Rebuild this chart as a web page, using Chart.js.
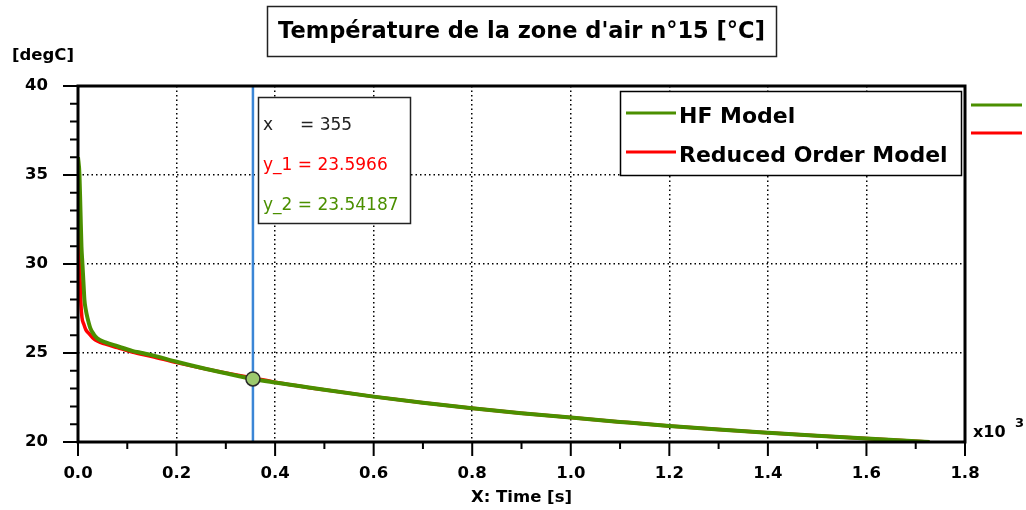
<!DOCTYPE html>
<html>
<head>
<meta charset="utf-8">
<script src="https://cdn.jsdelivr.net/npm/chart.js"></script>
<style>
  html, body { margin: 0; padding: 0; background: #fff; }
  #chart { display: block; }
</style>
</head>
<body>
<canvas id="chart" width="1026" height="510"></canvas>
<script>
// Time axis in thousands of seconds (x10^3)
const timeHF  = [0, 0.003, 0.005, 0.007, 0.009, 0.011, 0.013, 0.016, 0.019, 0.025, 0.032, 0.039, 0.056, 0.08, 0.11, 0.13, 0.15, 0.2, 0.25, 0.3, 0.355, 0.4, 0.5, 0.6, 0.7, 0.8, 0.9, 1.0, 1.1, 1.2, 1.3, 1.4, 1.5, 1.6, 1.7, 1.728];
const tempHF  = [36.0, 35.0, 33.0, 31.0, 30.0, 29.0, 28.0, 27.4, 27.0, 26.4, 26.05, 25.82, 25.6, 25.38, 25.12, 25.0, 24.88, 24.51, 24.17, 23.86, 23.54, 23.34, 22.93, 22.55, 22.2, 21.89, 21.62, 21.37, 21.13, 20.9, 20.7, 20.52, 20.35, 20.19, 20.04, 20.0];
const timeROM = [0, 0.001, 0.002, 0.003, 0.0045, 0.0055, 0.008, 0.012, 0.016, 0.022, 0.03, 0.04, 0.056, 0.08, 0.11, 0.15, 0.2, 0.25, 0.3, 0.355, 0.4, 0.5, 0.6, 0.7, 0.8, 0.9, 1.0, 1.1, 1.2, 1.3, 1.4, 1.5, 1.6, 1.7, 1.728];
const tempROM = [34.6, 32.5, 31.0, 30.0, 29.0, 28.0, 27.0, 26.6, 26.3, 26.1, 25.85, 25.66, 25.5, 25.3, 25.05, 24.8, 24.46, 24.16, 23.88, 23.597, 23.36, 22.93, 22.55, 22.2, 21.89, 21.62, 21.37, 21.13, 20.9, 20.7, 20.52, 20.35, 20.19, 20.04, 20.0];

const seriesNames = ['HF Model', 'Reduced Order Model'];
const cursorTime = 0.355;
const readX  = 355;
const readY1 = 23.5966;
const readY2 = 23.54187;

const GREEN = '#4b8f00';
const RED   = '#ff0000';
const BLUE  = '#3b86d6';
const FONT  = '"DejaVu Sans", Verdana, sans-serif';

Chart.defaults.color = '#000';
Chart.defaults.font.family = FONT;

const toPts = (xs, ys) => xs.map((x, i) => ({ x, y: ys[i] }));

// frame, ticks, boxes and the little extras around the plot
const decor = {
  id: 'decor',
  beforeDatasetsDraw (chart) {
    const { ctx, chartArea: a, scales: { x } } = chart;
    // cursor line
    const cx = x.getPixelForValue(cursorTime);
    ctx.save();
    ctx.strokeStyle = BLUE;
    ctx.lineWidth = 2.5;
    ctx.beginPath();
    ctx.moveTo(cx, a.top);
    ctx.lineTo(cx, a.bottom);
    ctx.stroke();
    ctx.restore();
  },
  afterDraw (chart) {
    const { ctx, chartArea: a, scales: { x, y } } = chart;
    ctx.save();

    // outer frame
    ctx.strokeStyle = '#000';
    ctx.lineWidth = 3;
    ctx.strokeRect(a.left, a.top, a.right - a.left, a.bottom - a.top);

    // tick marks
    ctx.lineWidth = 2;
    ctx.beginPath();
    y.ticks.forEach(t => {
      const py = y.getPixelForValue(t.value);
      const len = Math.round(t.value) % 5 === 0 ? 15 : 8;
      ctx.moveTo(a.left - len, py);
      ctx.lineTo(a.left, py);
    });
    x.ticks.forEach(t => {
      const px = x.getPixelForValue(t.value);
      const len = Math.round(t.value * 10) % 2 === 0 ? 14 : 7;
      ctx.moveTo(px, a.bottom);
      ctx.lineTo(px, a.bottom + len);
    });
    ctx.stroke();

    // title box
    ctx.font = 'bold 22.5px ' + FONT;
    ctx.textBaseline = 'middle';
    ctx.textAlign = 'center';
    const title = 'Température de la zone d\'air n°15 [°C]';
    const tw = ctx.measureText(title).width;
    const tcx = (a.left + a.right) / 2;
    ctx.fillStyle = '#000';
    ctx.fillText(title, tcx, 32);
    ctx.lineWidth = 1.5;
    ctx.strokeStyle = '#222';
    ctx.strokeRect(Math.round(tcx - tw / 2 - 11) + 0.5, 6.5, Math.round(tw + 22), 50);

    // unit label
    ctx.font = 'bold 16.5px ' + FONT;
    ctx.textAlign = 'left';
    ctx.fillText('[degC]', 12, 56);

    // x10^3
    ctx.font = 'bold 16px ' + FONT;
    ctx.fillText('x10', 973, 433);
    ctx.font = 'bold 13px ' + FONT;
    ctx.fillText('3', 1015, 424);

    // legend box
    const datasets = chart.data.datasets.slice(0, 2);
    ctx.fillStyle = '#fff';
    ctx.fillRect(620, 91, 341, 84);
    ctx.strokeStyle = '#000';
    ctx.lineWidth = 1.5;
    ctx.strokeRect(620.5, 91.5, 341, 84);
    ctx.font = 'bold 22px ' + FONT;
    datasets.forEach((d, i) => {
      const ly = 113 + i * 39;
      ctx.strokeStyle = d.borderColor;
      ctx.lineWidth = 3;
      ctx.beginPath();
      ctx.moveTo(626, ly);
      ctx.lineTo(676, ly);
      ctx.stroke();
      ctx.fillStyle = '#000';
      ctx.fillText(d.label, 679, ly + 4);
      // swatches outside the plot on the right
      const ry = 105 + i * 28;
      ctx.beginPath();
      ctx.moveTo(971, ry);
      ctx.lineTo(1022, ry);
      ctx.stroke();
    });

    // readout box
    ctx.fillStyle = '#fff';
    ctx.fillRect(258, 97, 152, 126);
    ctx.strokeStyle = '#222';
    ctx.lineWidth = 1.5;
    ctx.strokeRect(258.5, 97.5, 152, 126);
    ctx.font = '17px ' + FONT;
    ctx.fillStyle = '#222';
    ctx.fillText('x', 263, 126);
    ctx.fillText('= ' + readX, 300, 126);
    ctx.fillStyle = RED;
    ctx.fillText('y_1 = ' + readY1, 263, 166);
    ctx.fillStyle = GREEN;
    ctx.fillText('y_2 = ' + readY2, 263, 206);

    ctx.restore();
  }
};

new Chart(document.getElementById('chart'), {
  type: 'line',
  data: {
    datasets: [
      {
        label: seriesNames[0],
        data: toPts(timeHF, tempHF),
        borderColor: GREEN,
        borderWidth: 4,
        pointRadius: 0,
        cubicInterpolationMode: 'monotone'
      },
      {
        label: seriesNames[1],
        data: toPts(timeROM, tempROM),
        borderColor: RED,
        borderWidth: 3.5,
        pointRadius: 0,
        cubicInterpolationMode: 'monotone'
      },
      {
        label: 'cursor',
        data: [{ x: cursorTime, y: readY2 }],
        showLine: false,
        pointRadius: 7,
        pointBackgroundColor: '#9cc96e',
        pointBorderColor: '#2a2a2a',
        pointBorderWidth: 1.5,
        order: -1
      }
    ]
  },
  options: {
    responsive: false,
    animation: false,
    events: [],
    layout: { padding: { top: 86, right: 61, left: 0, bottom: 0 } },
    plugins: {
      legend: { display: false },
      tooltip: { enabled: false }
    },
    scales: {
      x: {
        type: 'linear',
        min: 0,
        max: 1.8,
        afterFit: s => { s.height = 68; },
        afterBuildTicks: s => {
          s.ticks = [];
          for (let i = 0; i <= 18; i++) s.ticks.push({ value: i / 10 });
        },
        ticks: {
          autoSkip: false,
          maxRotation: 0,
          padding: 22,
          font: { size: 16.5, weight: 'bold' },
          callback: v => (Math.round(v * 10) % 2 === 0 ? v.toFixed(1) : '')
        },
        grid: {
          drawTicks: false,
          color: c => {
            const k = Math.round(c.tick.value * 10);
            return (k % 2 === 0 && k > 0 && k < 18) ? '#000' : 'rgba(0,0,0,0)';
          },
          lineWidth: 1.5
        },
        border: { display: false, dash: [1.5, 3] },
        title: {
          display: true,
          text: 'X: Time [s]',
          font: { size: 16.5, weight: 'bold' },
          padding: { top: 0, bottom: 2 }
        }
      },
      y: {
        min: 20,
        max: 40,
        afterFit: s => { s.width = 78; },
        afterBuildTicks: s => {
          s.ticks = [];
          for (let v = 20; v <= 40; v++) s.ticks.push({ value: v });
        },
        ticks: {
          autoSkip: false,
          padding: 30,
          font: { size: 16.5, weight: 'bold' },
          callback: v => (Math.round(v) % 5 === 0 ? String(v) : '')
        },
        grid: {
          drawTicks: false,
          color: c => {
            const v = Math.round(c.tick.value);
            return (v % 5 === 0 && v > 20 && v < 40) ? '#000' : 'rgba(0,0,0,0)';
          },
          lineWidth: 1.5
        },
        border: { display: false, dash: [1.5, 3] }
      }
    }
  },
  plugins: [decor]
});
</script>
</body>
</html>
